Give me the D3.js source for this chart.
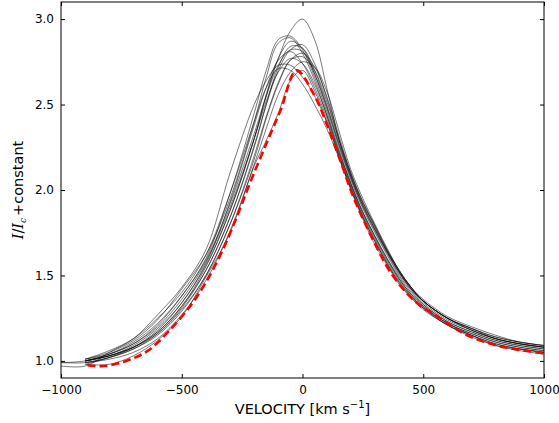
<!DOCTYPE html>
<html>
<head>
<meta charset="utf-8">
<script src="https://cdn.jsdelivr.net/npm/d3@7"></script>
<style>
  body { margin: 0; background: #fff; }
  text { font-family: "DejaVu Sans", sans-serif; }
</style>
</head>
<body>
<div id="chart"></div>
<script>

// velocity grid shared by the black profiles (km/s)
const velocity = [-1000, -900, -800, -700, -600, -500, -400, -300, -200, -150, -100, -50, 0,
    50, 100, 150, 200, 250, 300, 350, 400, 450, 500, 600, 700, 800, 900, 1000];

// individual line profiles, I/Ic + constant (null = not drawn there)
const profiles = [
    [null, 1.00, 1.03, 1.08, 1.17, 1.32, 1.55, 1.88, 2.30, 2.55, 2.77, 2.93, 3.00, 2.88, 2.60, 2.30, 2.08, 1.91, 1.77, 1.64, 1.52, 1.42, 1.35, 1.25, 1.19, 1.13, 1.10, 1.08],
    [0.99, 1.00, 1.04, 1.10, 1.21, 1.38, 1.60, 1.98, 2.45, 2.70, 2.88, 2.90, 2.82, 2.66, 2.46, 2.24, 2.04, 1.87, 1.73, 1.60, 1.49, 1.40, 1.33, 1.23, 1.17, 1.12, 1.09, 1.07],
    [null, 1.01, 1.05, 1.12, 1.24, 1.42, 1.62, 1.95, 2.40, 2.66, 2.86, 2.89, 2.80, 2.64, 2.44, 2.22, 2.03, 1.86, 1.72, 1.59, 1.48, 1.39, 1.32, 1.22, 1.16, 1.11, 1.08, 1.06],
    [null, 1.00, 1.03, 1.09, 1.19, 1.34, 1.56, 1.88, 2.30, 2.56, 2.77, 2.87, 2.83, 2.68, 2.48, 2.26, 2.06, 1.89, 1.75, 1.62, 1.50, 1.41, 1.33, 1.23, 1.17, 1.12, 1.09, 1.07],
    [0.99, 0.99, 1.02, 1.07, 1.16, 1.31, 1.53, 1.84, 2.25, 2.50, 2.72, 2.84, 2.83, 2.70, 2.50, 2.28, 2.08, 1.91, 1.77, 1.64, 1.52, 1.43, 1.35, 1.25, 1.19, 1.14, 1.11, 1.09],
    [null, 1.00, 1.04, 1.11, 1.22, 1.38, 1.59, 1.92, 2.33, 2.55, 2.73, 2.82, 2.81, 2.68, 2.49, 2.27, 2.07, 1.90, 1.76, 1.63, 1.51, 1.42, 1.34, 1.24, 1.18, 1.13, 1.10, 1.08],
    [null, 0.98, 1.02, 1.08, 1.18, 1.34, 1.57, 1.93, 2.38, 2.60, 2.76, 2.81, 2.74, 2.60, 2.42, 2.21, 2.02, 1.85, 1.71, 1.58, 1.47, 1.38, 1.31, 1.21, 1.15, 1.10, 1.07, 1.05],
    [null, 1.00, 1.03, 1.08, 1.16, 1.30, 1.50, 1.80, 2.20, 2.43, 2.63, 2.76, 2.78, 2.70, 2.52, 2.30, 2.10, 1.93, 1.79, 1.65, 1.53, 1.43, 1.35, 1.25, 1.19, 1.14, 1.11, 1.09],
    [null, 1.01, 1.04, 1.10, 1.20, 1.36, 1.58, 1.90, 2.30, 2.52, 2.69, 2.77, 2.74, 2.62, 2.44, 2.23, 2.04, 1.87, 1.73, 1.60, 1.48, 1.39, 1.32, 1.22, 1.16, 1.11, 1.08, 1.06],
    [null, 0.99, 1.01, 1.05, 1.13, 1.27, 1.47, 1.76, 2.15, 2.36, 2.56, 2.69, 2.75, 2.72, 2.58, 2.35, 2.12, 1.95, 1.80, 1.66, 1.53, 1.43, 1.36, 1.26, 1.20, 1.15, 1.11, 1.09],
    [0.97, 0.97, 1.05, 1.13, 1.27, 1.43, 1.65, 2.10, 2.50, 2.64, 2.73, 2.73, 2.66, 2.55, 2.40, 2.20, 2.01, 1.84, 1.70, 1.57, 1.46, 1.38, 1.31, 1.21, 1.15, 1.10, 1.07, 1.05],
    [null, 1.01, 1.06, 1.13, 1.25, 1.40, 1.62, 1.98, 2.40, 2.60, 2.71, 2.70, 2.62, 2.50, 2.36, 2.19, 2.01, 1.84, 1.70, 1.57, 1.46, 1.37, 1.30, 1.21, 1.14, 1.09, 1.06, 1.04],
    [null, 0.99, 1.02, 1.07, 1.15, 1.29, 1.50, 1.80, 2.18, 2.42, 2.62, 2.76, 2.80, 2.72, 2.55, 2.32, 2.10, 1.93, 1.79, 1.65, 1.53, 1.43, 1.35, 1.25, 1.18, 1.13, 1.10, 1.08],
    [null, 0.98, 0.98, 1.03, 1.12, 1.26, 1.49, 1.75, 2.14, 2.29, 2.45, 2.64, 2.70, 2.58, 2.40, 2.20, 2.00, 1.83, 1.68, 1.56, 1.45, 1.37, 1.31, 1.22, 1.15, 1.09, 1.07, 1.05],
    [null, 1.00, 1.03, 1.08, 1.17, 1.32, 1.53, 1.84, 2.26, 2.50, 2.70, 2.82, 2.85, 2.74, 2.54, 2.30, 2.09, 1.92, 1.78, 1.64, 1.52, 1.42, 1.35, 1.25, 1.18, 1.13, 1.10, 1.08]
];

// mean profile (red dashed)
const meanVelocity = [-890, -820, -730, -640, -550, -460, -400, -330, -270, -215, -150, -90, -25,
    47, 102, 157, 205, 254, 309, 350, 405, 450, 500, 543, 600, 682, 820, 1000];
const meanValues = [0.975, 0.97, 1.0, 1.06, 1.18, 1.33, 1.46, 1.65, 1.85, 2.05, 2.27, 2.47, 2.70,
    2.56, 2.38, 2.17, 1.98, 1.82, 1.66, 1.55, 1.44, 1.37, 1.31, 1.276, 1.22, 1.15, 1.085, 1.045];

const xTicks = [-1000, -500, 0, 500, 1000];
const yTicks = [1.0, 1.5, 2.0, 2.5, 3.0];

// size and margins
const margin = { top: 2, right: 15, bottom: 45, left: 61 },
    width = 559 - margin.left - margin.right,
    height = 423 - margin.top - margin.bottom;

const svg = d3.select("#chart").append("svg")
    .attr("width", 559)
    .attr("height", 423)
    .append("g")
    .attr("transform", `translate(${margin.left},${margin.top})`);

const xScale = d3.scaleLinear().domain([-1000, 1000]).range([0, width]);
const yScale = d3.scaleLinear().domain([0.9, 3.1]).range([height, 0]);

const fmtMinus = d => d3.format("d")(d).replace("-", "\u2212");

// clip
svg.append("clipPath").attr("id", "clip")
    .append("rect").attr("width", width).attr("height", height);

const plot = svg.append("g").attr("clip-path", "url(#clip)");

const line = d3.line()
    .defined(d => d[1] !== null)
    .x(d => xScale(d[0]))
    .y(d => yScale(d[1]))
    .curve(d3.curveCatmullRom.alpha(0.5));

// black profiles
plot.selectAll(".profile")
    .data(profiles)
    .enter().append("path")
    .attr("class", "profile")
    .attr("d", vals => line(vals.map((v, i) => [velocity[i], v])))
    .attr("fill", "none")
    .attr("stroke", "#000")
    .attr("stroke-opacity", 0.7)
    .attr("stroke-width", 0.75);

// red dashed mean
plot.append("path")
    .attr("d", line(meanVelocity.map((v, i) => [v, meanValues[i]])))
    .attr("fill", "none")
    .attr("stroke", "#ff0000")
    .attr("stroke-width", 2.6)
    .attr("stroke-dasharray", "8,4");

// axes, ticks inside
svg.append("g")
    .attr("transform", `translate(0,${height})`)
    .call(d3.axisBottom(xScale).tickValues(xTicks).tickFormat(fmtMinus).tickSizeInner(-4).tickSizeOuter(0).tickPadding(7));
svg.append("g")
    .call(d3.axisTop(xScale).tickValues(xTicks).tickFormat("").tickSizeInner(-4).tickSizeOuter(0));
svg.append("g")
    .call(d3.axisLeft(yScale).tickValues(yTicks).tickFormat(d3.format(".1f")).tickSizeInner(-4).tickSizeOuter(0).tickPadding(7));
svg.append("g")
    .attr("transform", `translate(${width},0)`)
    .call(d3.axisRight(yScale).tickValues(yTicks).tickFormat("").tickSizeInner(-4).tickSizeOuter(0));

svg.selectAll(".domain").remove();
svg.selectAll(".tick line").attr("stroke", "#000");
svg.selectAll(".tick text")
    .attr("font-family", "DejaVu Sans, sans-serif")
    .attr("font-size", 12)
    .attr("fill", "#000");

// frame
svg.append("rect")
    .attr("width", width)
    .attr("height", height)
    .attr("fill", "none")
    .attr("stroke", "#000")
    .attr("stroke-width", 1);

// x label
const xl = svg.append("text")
    .attr("x", width / 2)
    .attr("y", height + 36)
    .attr("text-anchor", "middle")
    .attr("font-size", 14.5)
    .attr("fill", "#000");
xl.append("tspan").text("VELOCITY [km s");
xl.append("tspan").attr("font-size", 10).attr("dy", -6).text("\u22121");
xl.append("tspan").attr("dy", 6).text("]");

// y label
const yl = svg.append("text")
    .attr("transform", `translate(${-38},${height / 2}) rotate(-90)`)
    .attr("text-anchor", "middle")
    .attr("font-size", 14.5)
    .attr("fill", "#000");
yl.append("tspan").attr("font-family", "DejaVu Serif, serif").attr("font-style", "italic").text("I");
yl.append("tspan").attr("font-family", "DejaVu Serif, serif").text("/");
yl.append("tspan").attr("font-family", "DejaVu Serif, serif").attr("font-style", "italic").text("I");
yl.append("tspan").attr("font-family", "DejaVu Serif, serif").attr("font-style", "italic").attr("font-size", 9).attr("dy", 3).text("c");
yl.append("tspan").attr("dy", -3).attr("dx", 2).text("+constant");

</script>
</body>
</html>
